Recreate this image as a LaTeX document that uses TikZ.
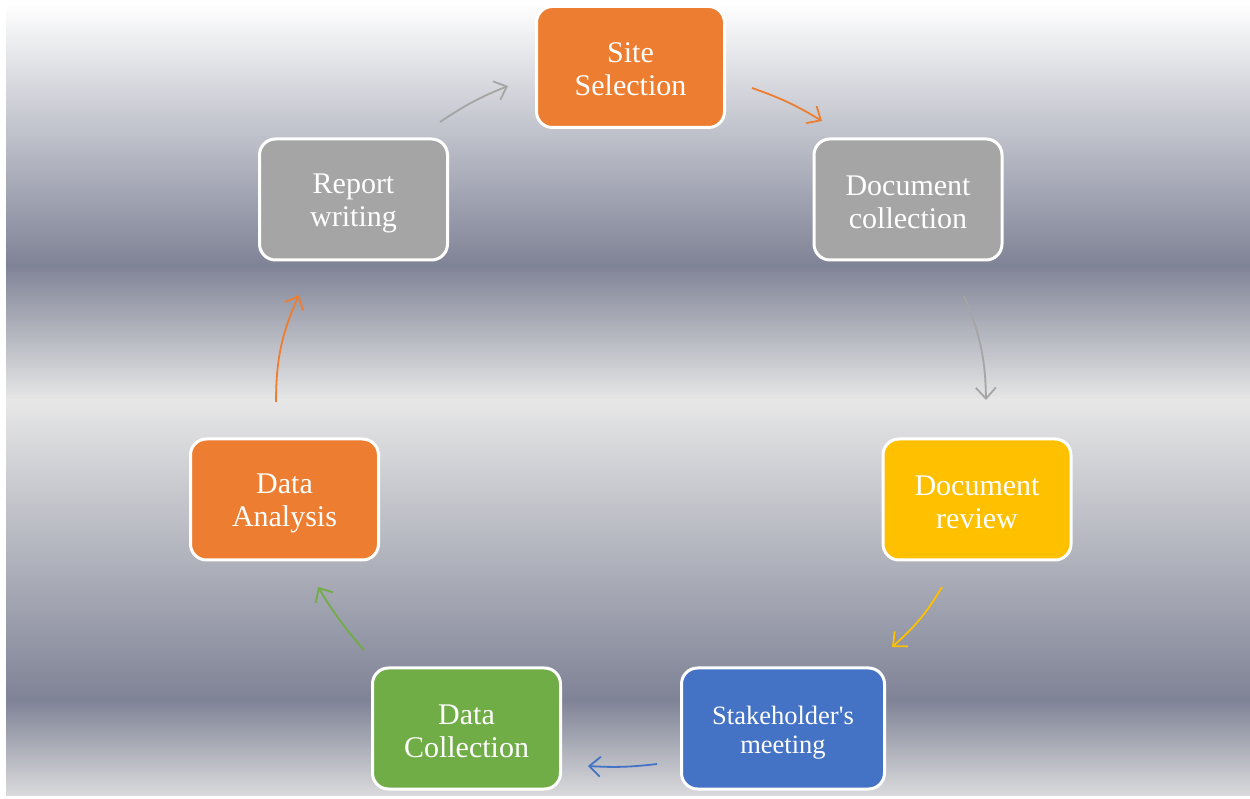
\documentclass[tikz,border=0pt]{standalone}
\usepackage{fontspec}
\setmainfont{Liberation Serif}
\usetikzlibrary{arrows.meta}
\definecolor{bgdark}{RGB}{127,131,150}
\definecolor{bglight}{RGB}{231,231,231}
\definecolor{bgbot}{RGB}{218,218,220}
\definecolor{corange}{RGB}{237,125,49}
\definecolor{cgray}{RGB}{165,165,165}
\definecolor{cyellow}{RGB}{255,192,0}
\definecolor{cblue}{RGB}{68,114,196}
\definecolor{cgreen}{RGB}{112,173,71}
\tikzset{
  box/.style={rounded corners=16pt, draw=white, line width=3pt,
    minimum width=188pt, minimum height=121pt, inner sep=0pt},
  txt/.style={text=white, align=center, inner sep=0pt,
    font=\fontsize{30}{32.5}\selectfont},
  arr/.style={line width=1.8pt, -{Straight Barb[length=11pt,width=20pt]}}
}
\begin{document}
\begin{tikzpicture}[x=1pt,y=1pt]
\useasboundingbox (0,0) rectangle (1250,798);
\fill[white] (0,0) rectangle (1250,798);
\shade[top color=white, bottom color=bgdark] (6,532.5) rectangle (1250,795);
\shade[top color=bgdark, bottom color=bglight] (6,397.5) rectangle (1250,533);
\shade[top color=bglight, bottom color=bgdark] (6,97.5) rectangle (1250,398);
\shade[top color=bgdark, bottom color=bgbot] (6,3) rectangle (1250,98);

\node[box, fill=corange] (site) at (630.5,731) {};
\node[box, fill=cgray] (dcol) at (908,598.5) {};
\node[box, fill=cyellow] (drev) at (977,298.5) {};
\node[box, fill=cblue, minimum width=203pt] (stake) at (783,69.5) {};
\node[box, fill=cgreen] (dcoll) at (466.5,69.5) {};
\node[box, fill=corange] (dana) at (284.5,298.5) {};
\node[box, fill=cgray] (rep) at (353.5,598.5) {};

\node[txt] (tsite) at ([yshift=-2pt]site.center) {Site\\Selection};
\node[txt] (tdcol) at ([yshift=-3pt]dcol.center) {Document\\collection};
\node[txt] (tdrev) at ([yshift=-3pt]drev.center) {Document\\review};
\node[txt, font=\fontsize{26.5}{28.5}\selectfont] (tstake) at ([yshift=-4pt]stake.center) {Stakeholder\textquotesingle s\\meeting};
\node[txt] (tdcoll) at ([yshift=-3pt]dcoll.center) {Data\\Collection};
\node[txt] (tdana) at ([yshift=-4pt]dana.center) {Data\\Analysis};
\node[txt] (trep) at ([yshift=-4pt]rep.center) {Report\\writing};

\coordinate (a1s) at (440,676); \coordinate (a1e) at (508,712);
\coordinate (a2s) at (752,710); \coordinate (a2e) at (822,677);
\coordinate (a3s) at (964,502); \coordinate (a3e) at (986,398);
\coordinate (a4s) at (942,211); \coordinate (a4e) at (892,151);
\coordinate (a5s) at (657,34);  \coordinate (a5e) at (588,32);
\coordinate (a6s) at (364,148); \coordinate (a6e) at (318,211);
\coordinate (a7s) at (276,396); \coordinate (a7e) at (299,503);

\draw[arr, cgray] (a1s) to[bend left=6] (a1e);
\draw[arr, corange] (a2s) to[bend left=6] (a2e);
\draw[arr, cgray] (a3s) to[bend left=11] (a3e);
\draw[arr, cyellow] (a4s) to[bend left=9] (a4e);
\draw[arr, cblue] (a5s) to[bend left=5] (a5e);
\draw[arr, cgreen] (a6s) to[bend left=5] (a6e);
\draw[arr, corange] (a7s) to[bend left=12] (a7e);
\end{tikzpicture}
\end{document}
